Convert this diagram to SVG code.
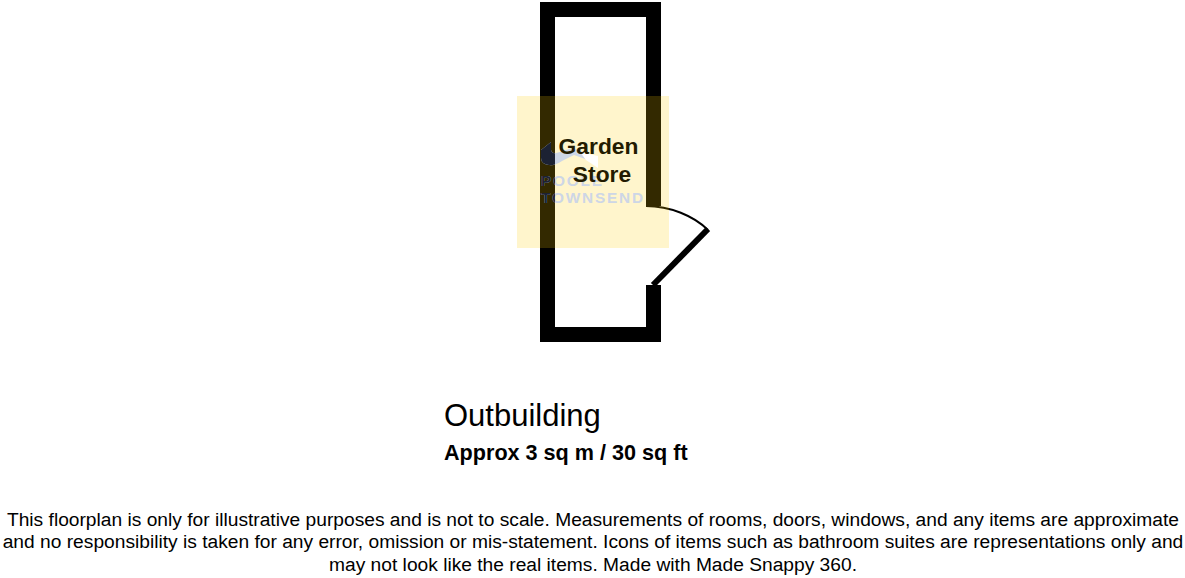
<svg xmlns="http://www.w3.org/2000/svg" width="1185" height="578" viewBox="0 0 1185 578">
<defs><clipPath id="wallclip"><rect x="540" y="96" width="15" height="152"/></clipPath>
<g id="wmark">
<path d="M541 150L551 142V150Q552 155 560 152L572 148L584 152L598 166L588 160L574 155L562 161Q555 166 549 165Q541 164 541 158Z"/>
<text class="wm" x="541" y="186">POOLE</text>
<text class="wm" x="541" y="203">TOWNSEND</text>
</g></defs>
<style>
text{font-family:"Liberation Sans",Arial,sans-serif;fill:#000}
.wm{font-weight:700;font-size:15.4px;letter-spacing:1.8px;fill:inherit}
.room{font-weight:700;font-size:22.8px;text-anchor:middle;fill:#231b00}
.note{font-size:19.2px;text-anchor:middle}
</style>
<g id="walls">
<path fill="#000" fill-rule="evenodd" d="M540 2H661V206H646V17H555V327H646V285H661V342H540Z"/>
</g>
<g id="door">
<path d="M646 206C670 206 694 216 708 230" fill="none" stroke="#000" stroke-width="2"/>
<path d="M653 285L708 229" fill="none" stroke="#000" stroke-width="6"/>
</g>
<rect id="highlight" x="517" y="96" width="152" height="152" fill="#ffcc00" fill-opacity=".2"/>
<g id="watermark">
<use href="#wmark" fill="#cdd6e6"/>
<path fill="#fff" d="M580 152L598 156V168L586 160Z"/>
<use href="#wmark" fill="#1c2233" clip-path="url(#wallclip)"/>
</g>
<g id="label">
<text class="room" x="598.500" y="154">Garden</text>
<text class="room" x="602" y="182">Store</text>
</g>
<g id="caption">
<text x="444" y="426" font-size="31">Outbuilding</text>
<text x="444" y="460" font-size="21.600" font-weight="700">Approx 3 sq m / 30 sq ft</text>
<text class="note" x="593" y="526">This floorplan is only for illustrative purposes and is not to scale. Measurements of rooms, doors, windows, and any items are approximate</text>
<text class="note" x="593" y="548">and no responsibility is taken for any error, omission or mis-statement. Icons of items such as bathroom suites are representations only and</text>
<text class="note" x="593" y="571">may not look like the real items. Made with Made Snappy 360.</text>
</g>
</svg>
